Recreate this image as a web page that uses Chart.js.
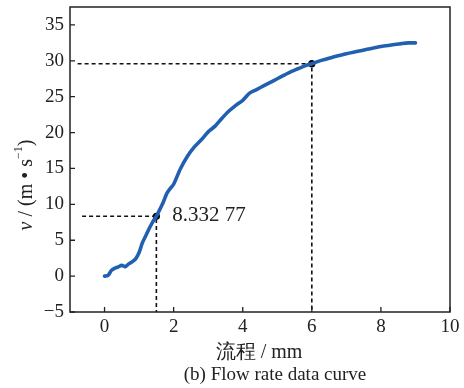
<!DOCTYPE html>
<html>
<head>
<meta charset="utf-8">
<script src="https://cdn.jsdelivr.net/npm/chart.js@4"></script>
<style>
  html, body { margin: 0; padding: 0; background: #fff; }
  #wrap { width: 464px; height: 388px; position: relative; }
</style>
</head>
<body>
<div id="wrap"><canvas id="chart"></canvas></div>
<script>
// ─── Dados ────────────────────────────────────────────
const distancia = [0, 0.1, 0.2, 0.3, 0.4, 0.5, 0.6, 0.7, 0.8, 0.9, 1.0, 1.1, 1.2, 1.3, 1.4, 1.5,
  1.6, 1.7, 1.8, 1.9, 2.0, 2.2, 2.4, 2.6, 2.8, 3.0, 3.2, 3.4, 3.6, 3.8, 4.0, 4.2, 4.4, 4.6,
  4.8, 5.0, 5.2, 5.4, 5.6, 5.8, 6.0, 6.3, 6.6, 7.0, 7.3, 7.6, 8.0, 8.3, 8.6, 8.8, 9.0];
const velocidade = [0, 0.1, 0.8, 1.1, 1.3, 1.5, 1.3, 1.7, 2.0, 2.4, 3.3, 4.7, 5.7, 6.7, 7.6, 8.33,
  9.3, 10.3, 11.5, 12.2, 12.8, 15.0, 16.7, 18.0, 19.0, 20.1, 20.9, 22.0, 23.0, 23.8, 24.5, 25.5,
  26.0, 26.5, 27.0, 27.5, 28.0, 28.5, 28.9, 29.3, 29.6, 30.1, 30.5, 31.0, 31.3, 31.6, 32.0,
  32.2, 32.4, 32.5, 32.5];

const pontosX = [1.5, 6.0];
const pontosY = [8.33277, 29.6];
const inicioTracejado = [-0.65, -0.78];
const rotuloPonto = '8.332 77';

const ticksX = [0, 2, 4, 6, 8, 10];
const ticksY = [-5, 0, 5, 10, 15, 20, 25, 30, 35];

const SERIF = "'Liberation Serif', 'Times New Roman', serif";
const AZUL = '#2160b0';

// ─── Conjuntos de dados ──────────────────────────────
const curva = distancia.map((x, i) => ({ x, y: velocidade[i] }));
const tracejados = [];
pontosX.forEach((px, i) => {
  tracejados.push({
    data: [{ x: inicioTracejado[i], y: pontosY[i] }, { x: px, y: pontosY[i] }, { x: px, y: -5 }],
    borderColor: '#111', borderWidth: 1.6, borderDash: [4, 3],
    pointRadius: 0, fill: false, tension: 0,
  });
});

// ─── Plugin: moldura, ticks internos e textos ────────
const molduraPlugin = {
  id: 'moldura',
  afterDatasetsDraw(chart) {
    const { ctx, chartArea: a, scales } = chart;
    ctx.save();
    ctx.strokeStyle = '#222';
    ctx.lineWidth = 1.5;
    ctx.strokeRect(a.left, a.top, a.right - a.left, a.bottom - a.top);
    ctx.lineWidth = 1.3;
    ctx.beginPath();
    ticksX.forEach(v => {
      const x = scales.x.getPixelForValue(v);
      ctx.moveTo(x, a.bottom); ctx.lineTo(x, a.bottom - 5);
    });
    ticksY.forEach(v => {
      const y = scales.y.getPixelForValue(v);
      ctx.moveTo(a.left, y); ctx.lineTo(a.left + 5, y);
    });
    ctx.stroke();

    // rótulo do ponto
    ctx.fillStyle = '#222';
    ctx.font = `21px ${SERIF}`;
    ctx.textBaseline = 'middle';
    ctx.textAlign = 'left';
    ctx.fillText(rotuloPonto, scales.x.getPixelForValue(pontosX[0]) + 16, scales.y.getPixelForValue(pontosY[0]) - 0.5);

    // título do eixo x e legenda
    ctx.textAlign = 'center';
    ctx.font = `20px ${SERIF}`;
    ctx.fillText('流程 / mm', 259, 353);
    ctx.font = `19px ${SERIF}`;
    ctx.fillText('(b) Flow rate data curve', 275, 375);

    // título do eixo y (rotacionado)
    ctx.translate(27, 185);
    ctx.rotate(-Math.PI / 2);
    const partes = [
      { t: 'v', f: `italic 20px ${SERIF}`, dy: 0 },
      { t: ' / (m • s', f: `20px ${SERIF}`, dy: 0 },
      { t: '−1', f: `12px ${SERIF}`, dy: -8 },
      { t: ')', f: `20px ${SERIF}`, dy: 0 },
    ];
    let largura = 0;
    partes.forEach(p => { ctx.font = p.f; largura += ctx.measureText(p.t).width; });
    let cx = -largura / 2;
    ctx.textAlign = 'left';
    partes.forEach(p => {
      ctx.font = p.f;
      ctx.fillText(p.t, cx, p.dy);
      cx += ctx.measureText(p.t).width;
    });
    ctx.restore();
  },
};

new Chart(document.getElementById('chart'), {
  type: 'line',
  data: {
    datasets: [
      {
        data: curva, borderColor: AZUL, borderWidth: 3.6,
        pointRadius: 0, tension: 0.3, fill: false,
        borderCapStyle: 'round', borderJoinStyle: 'round',
      },
      ...tracejados,
      {
        data: pontosX.map((x, i) => ({ x, y: pontosY[i] })),
        showLine: false, pointRadius: 3.6, pointBackgroundColor: '#000', pointBorderWidth: 0,
      },
    ],
  },
  options: {
    responsive: true,
    maintainAspectRatio: false,
    animation: false,
    layout: { padding: { left: 0, top: 7, right: 14, bottom: 0 } },
    plugins: { legend: { display: false }, tooltip: { enabled: false } },
    scales: {
      x: {
        type: 'linear', min: -1, max: 10,
        afterBuildTicks: s => { s.ticks = ticksX.map(value => ({ value })); },
        afterFit: s => { s.height = 76; s.paddingLeft = 0; s.paddingRight = 0; },
        grid: { display: false, drawTicks: false },
        border: { display: false },
        ticks: { color: '#222', padding: 4, font: { family: SERIF, size: 19 }, maxRotation: 0 },
      },
      y: {
        type: 'linear', min: -5, max: 37.5,
        afterBuildTicks: s => { s.ticks = ticksY.map(value => ({ value })); },
        afterFit: s => { s.width = 70; s.paddingTop = 0; s.paddingBottom = 0; },
        grid: { display: false, drawTicks: false },
        border: { display: false },
        ticks: {
          color: '#222', padding: 6, font: { family: SERIF, size: 19 },
          callback: v => String(v).replace('-', '−'),
        },
      },
    },
  },
  plugins: [molduraPlugin],
});
</script>
</body>
</html>
